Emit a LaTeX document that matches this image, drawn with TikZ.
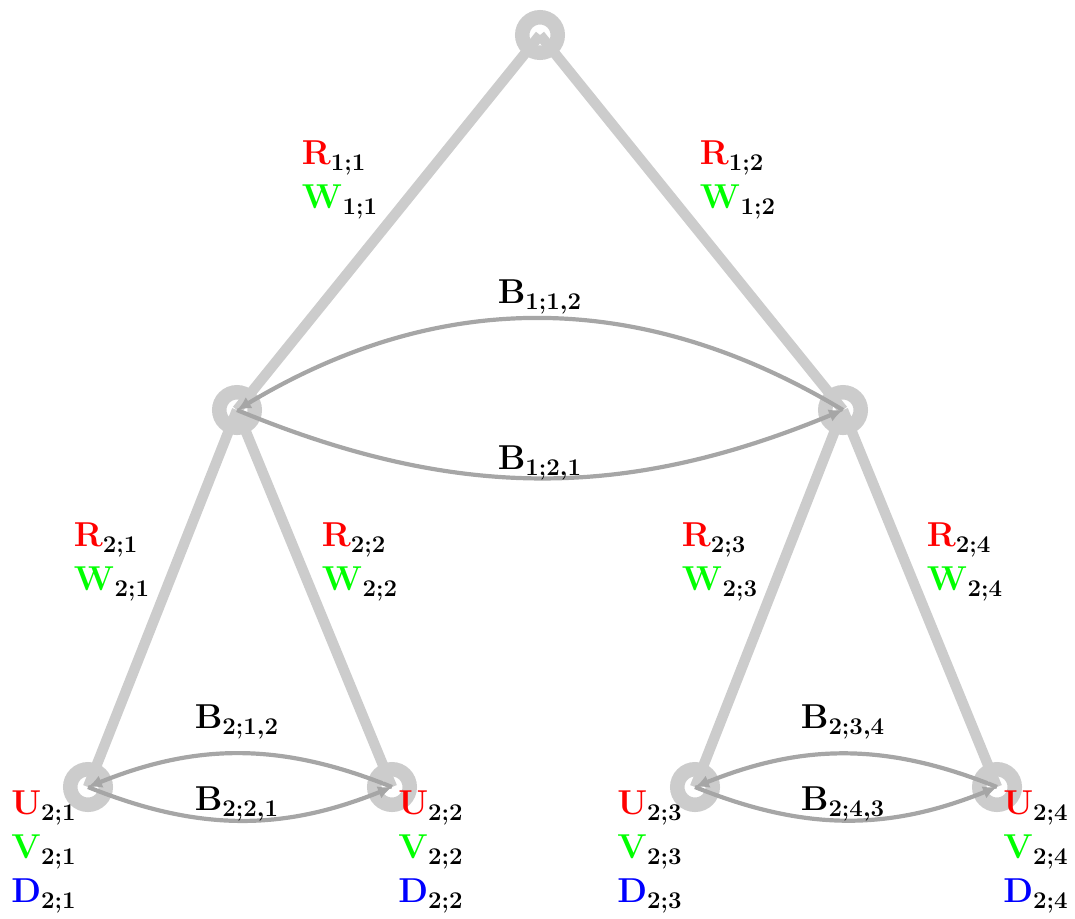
\documentclass[tikz,border=0pt]{standalone}
\usetikzlibrary{arrows.meta}
\newcommand{\lbl}[3]{$\textcolor{#1}{\mathbf{#2}}_{\mathbf{#3}}$}
\begin{document}
\begin{tikzpicture}[x=0.5pt,y=-0.5pt,
  ring/.style={circle,draw=gray!40,line width=7.25pt,minimum size=17.75pt,inner sep=0pt},
  edgeline/.style={draw=gray!40,line width=5.2pt},
  arc/.style={draw=gray!70,line width=2.1pt,-{Latex[length=7pt,width=6.5pt]}},
  lab/.style={font=\fontsize{18}{22}\selectfont\boldmath,align=left,inner sep=0pt}]
\useasboundingbox (0,0) rectangle (1075,918);
% edges
\coordinate (c0) at (540,35);
\coordinate (c1) at (237,410);
\coordinate (c2) at (843,410);
\coordinate (c3) at (88,787);
\coordinate (c4) at (392,787);
\coordinate (c5) at (695,787);
\coordinate (c6) at (997,787);
\draw[edgeline] (c0) -- (c1);
\draw[edgeline] (c0) -- (c2);
\draw[edgeline] (c1) -- (c3);
\draw[edgeline] (c1) -- (c4);
\draw[edgeline] (c2) -- (c5);
\draw[edgeline] (c2) -- (c6);
% nodes
\node[ring] (n0) at (c0) {};
\node[ring] (n1) at (c1) {};
\node[ring] (n2) at (c2) {};
\node[ring] (n3) at (c3) {};
\node[ring] (n4) at (c4) {};
\node[ring] (n5) at (c5) {};
\node[ring] (n6) at (c6) {};
% arcs
\draw[arc] (n2.center) to[bend right=31] (n1.center);
\draw[arc] (n1.center) to[bend right=22.5] (n2.center);
\draw[arc] (n4.center) to[bend right=22] (n3.center);
\draw[arc] (n3.center) to[bend right=22] (n4.center);
\draw[arc] (n6.center) to[bend right=22] (n5.center);
\draw[arc] (n5.center) to[bend right=22] (n6.center);
% edge labels
\node[lab] (l01) at (340,180) {\lbl{red}{R}{1;1}\\\lbl{green}{W}{1;1}};
\node[lab] (l02) at (738,180) {\lbl{red}{R}{1;2}\\\lbl{green}{W}{1;2}};
\node[lab] (l13) at (112,562) {\lbl{red}{R}{2;1}\\\lbl{green}{W}{2;1}};
\node[lab] (l14) at (360,562) {\lbl{red}{R}{2;2}\\\lbl{green}{W}{2;2}};
\node[lab] (l25) at (720,562) {\lbl{red}{R}{2;3}\\\lbl{green}{W}{2;3}};
\node[lab] (l26) at (965,562) {\lbl{red}{R}{2;4}\\\lbl{green}{W}{2;4}};
% arc labels
\node[lab] (b112) at (540,297) {$\mathbf{B}_{\mathbf{1;1,2}}$};
\node[lab] (b121) at (540,463) {$\mathbf{B}_{\mathbf{1;2,1}}$};
\node[lab] (b212) at (237,722) {$\mathbf{B}_{\mathbf{2;1,2}}$};
\node[lab] (b221) at (237,804) {$\mathbf{B}_{\mathbf{2;2,1}}$};
\node[lab] (b234) at (843,722) {$\mathbf{B}_{\mathbf{2;3,4}}$};
\node[lab] (b243) at (843,804) {$\mathbf{B}_{\mathbf{2;4,3}}$};
% leaf labels
\node[lab] (u1) at (44,852) {\lbl{red}{U}{2;1}\\\lbl{green}{V}{2;1}\\\lbl{blue}{D}{2;1}};
\node[lab] (u2) at (431,852) {\lbl{red}{U}{2;2}\\\lbl{green}{V}{2;2}\\\lbl{blue}{D}{2;2}};
\node[lab] (u3) at (650,852) {\lbl{red}{U}{2;3}\\\lbl{green}{V}{2;3}\\\lbl{blue}{D}{2;3}};
\node[lab] (u4) at (1036,852) {\lbl{red}{U}{2;4}\\\lbl{green}{V}{2;4}\\\lbl{blue}{D}{2;4}};
\end{tikzpicture}
\end{document}
